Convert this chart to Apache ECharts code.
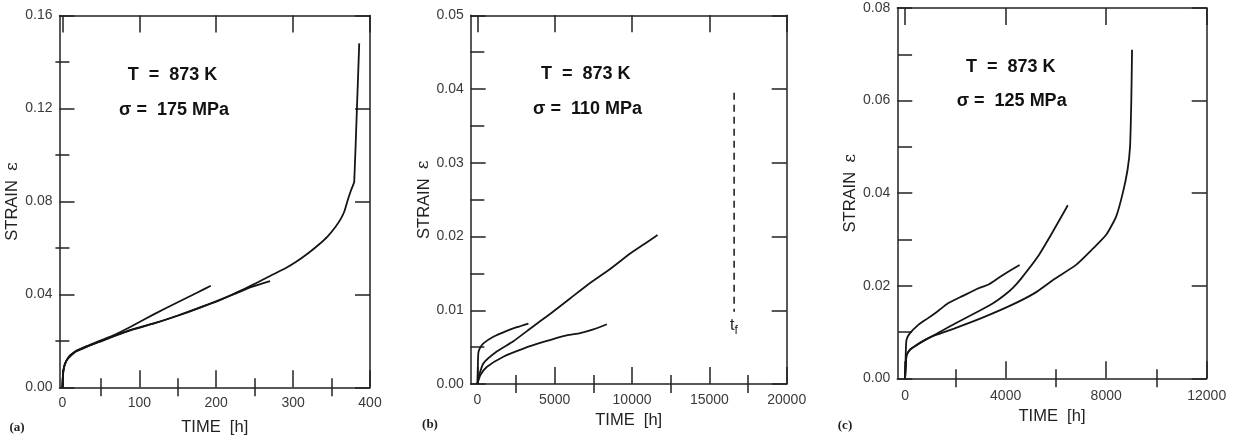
<!DOCTYPE html>
<html>
<head>
<meta charset="utf-8">
<script src="https://cdn.jsdelivr.net/npm/echarts@6/dist/echarts.min.js"></script>
<style>html,body{margin:0;padding:0;background:#fff;}#c{width:1234px;height:440px;}</style>
</head>
<body>
<div id="c"></div>
<script>
// ---------- DATA ----------
// Panel (a): T = 873 K, sigma = 175 MPa  [time h, strain]
const aLong = [[0,0],[0.5,0.004],[1.3,0.0074],[3,0.0098],[5.7,0.0118],[10,0.0138],[16.5,0.0153],[25,0.0166],[33.8,0.0178],[50,0.0199],[68,0.0222],[90,0.0248],[120,0.0276],[150,0.0309],[180,0.0345],[200,0.0368],[224,0.0404],[250,0.0445],[270,0.0479],[290,0.0512],[304,0.0540],[320,0.0578],[332,0.0610],[345,0.0650],[355,0.0690],[362,0.0725],[367,0.0760],[371,0.0805],[375,0.0845],[378,0.0870],[379.5,0.0885],[383,0.12],[386,0.148]];
const aShort1 = [[0,0],[1.3,0.0074],[5.7,0.0118],[16.5,0.0154],[33.8,0.018],[50,0.0202],[68,0.0226],[90,0.0263],[120,0.0316],[150,0.0366],[175,0.0407],[193,0.0437]];
const aShort2 = [[0,0],[1.3,0.0072],[5.7,0.0117],[16.5,0.0152],[33.8,0.0177],[50,0.0198],[68,0.0221],[90,0.0247],[120,0.0276],[150,0.0308],[180,0.0344],[224,0.0402],[246,0.0432],[270,0.0457]];
// Panel (b): T = 873 K, sigma = 110 MPa
const bUpper = [[0,0],[30,0.0022],[65,0.0042],[150,0.0048],[390,0.0055],[1035,0.0064],[1900,0.0072],[2550,0.0077],[3300,0.0082]];
const bMiddle = [[0,0],[120,0.0012],[390,0.0028],[1255,0.0044],[2330,0.0058],[3410,0.0075],[4700,0.0095],[5995,0.0116],[7290,0.0137],[8585,0.0156],[9880,0.0177],[10800,0.019],[11650,0.0202]];
const bLower = [[0,0],[200,0.0012],[605,0.0023],[1680,0.0037],[2975,0.0048],[4270,0.0057],[5780,0.0066],[6645,0.0069],[7500,0.0074],[8370,0.0081]];
const bRupture = [[16600,0.0395],[16600,0.0098]];
// Panel (c): T = 873 K, sigma = 125 MPa
const cA = [[0,0],[20,0.004],[55,0.0083],[187,0.0097],[516,0.0115],[914,0.013],[1300,0.0145],[1708,0.0162],[2300,0.0178],[2900,0.0194],[3300,0.0202],[3694,0.0216],[4100,0.023],[4556,0.0245]];
const cB = [[0,0],[30,0.003],[60,0.005],[200,0.0062],[400,0.007],[800,0.0083],[1180,0.0094],[1974,0.0118],[3035,0.0148],[3500,0.0162],[3960,0.018],[4300,0.0196],[4624,0.0216],[5284,0.0263],[5880,0.0317],[6475,0.0374]];
const cC = [[0,0],[30,0.003],[60,0.005],[200,0.0062],[400,0.007],[800,0.0083],[1200,0.0093],[1974,0.0108],[3035,0.013],[4226,0.0158],[5152,0.0184],[5900,0.0213],[6800,0.0245],[7470,0.028],[8000,0.031],[8400,0.035],[8660,0.040],[8850,0.045],[8950,0.050],[9000,0.060],[9030,0.071]];

// tick values
const aXMajor = [0,100,200,300,400], aXMinor = [50,150,250,350];
const aYMajor = [0,0.04,0.08,0.12,0.16], aYMinor = [0.02,0.06,0.10,0.14];
const bXMajor = [0,5000,10000,15000,20000], bXMinor = [2500,7500,12500,17500];
const bYMajor = [0,0.01,0.02,0.03,0.04,0.05], bYMinor = [0.005,0.015,0.025,0.035,0.045];
const cXMajor = [0,4000,8000,12000], cXMinor = [2000,6000,10000];
const cYMajor = [0,0.02,0.04,0.06,0.08], cYMinor = [0.01,0.03,0.05,0.07];

const annotations = [
  ['T  =  873 K', 'σ =  175 MPa', '(a)'],
  ['T  =  873 K', 'σ =  110 MPa', '(b)'],
  ['T  =  873 K', 'σ =  125 MPa', '(c)']
];

// ---------- LAYOUT ----------
const FRAME = '#222';
const LBL = '#3a3a3a';
const FONT = '"Liberation Sans", Arial, sans-serif';
const panels = [
  {grid:{left:59.5, top:15.5, width:310.5, height:371.8}, x:[-3.8,400], y:[0,0.16], xMaj:aXMajor, xMin:aXMinor, yMaj:aYMajor, yMin:aYMinor, xGap:32, yGap:37, xMargin:9},
  {grid:{left:470.7, top:15.3, width:316, height:368.7}, x:[-430,20000], y:[0,0.05], xMaj:bXMajor, xMin:bXMinor, yMaj:bYMajor, yMin:bYMinor, xGap:27, yGap:37, xMargin:9},
  {grid:{left:897.3, top:8, width:309.4, height:370.3}, x:[-310,12000], y:[0,0.08], xMaj:cXMajor, xMin:cXMinor, yMaj:cYMajor, yMin:cYMinor, xGap:28, yGap:37, xMargin:11}
];

const grids = [], xAxes = [], yAxes = [];
panels.forEach((p, i) => {
  grids.push(Object.assign({outerBoundsMode:'none', containLabel:false}, p.grid));
  const base = {gridIndex:i, type:'value', min:p.x[0], max:p.x[1], splitLine:{show:false}};
  xAxes.push(Object.assign({}, base, {position:'bottom',
    name:'TIME  [h]', nameLocation:'middle', nameGap:p.xGap,
    nameTextStyle:{fontFamily:FONT, fontSize:16.5, color:'#222'},
    axisLine:{show:true, onZero:false, lineStyle:{color:FRAME, width:1.5}},
    axisTick:{show:true, inside:true, length:17, customValues:p.xMaj, lineStyle:{color:FRAME, width:1.5}},
    axisLabel:{show:true, customValues:p.xMaj, margin:p.xMargin, fontFamily:FONT, fontSize:14, color:LBL, formatter:v=>String(v)}}));
  xAxes.push(Object.assign({}, base, {position:'bottom',
    axisLine:{show:false}, axisLabel:{show:false},
    axisTick:{show:true, inside:true, length:9, customValues:p.xMin, lineStyle:{color:FRAME, width:1.5}}}));
  xAxes.push(Object.assign({}, base, {position:'top',
    axisLine:{show:true, onZero:false, lineStyle:{color:FRAME, width:1.5}}, axisLabel:{show:false},
    axisTick:{show:true, inside:true, length:17, customValues:p.xMaj, lineStyle:{color:FRAME, width:1.5}}}));
  xAxes.push(Object.assign({}, base, {position:'top',
    axisLine:{show:false}, axisLabel:{show:false},
    axisTick:{show:true, inside:true, length:9, customValues:p.xMin, lineStyle:{color:FRAME, width:1.5}}}));
  const ybase = {gridIndex:i, type:'value', min:p.y[0], max:p.y[1], splitLine:{show:false}};
  yAxes.push(Object.assign({}, ybase, {position:'left',
    name:'{s|STRAIN}  {e|ε}', nameLocation:'middle', nameGap:p.yGap, nameRotate:90,
    nameTextStyle:{fontFamily:FONT, fontSize:16.5, color:'#222',
      rich:{s:{fontFamily:FONT, fontSize:16.5, color:'#222'}, e:{fontFamily:'"DejaVu Serif", serif', fontSize:17, color:'#222'}}},
    axisLine:{show:true, onZero:false, lineStyle:{color:FRAME, width:1.5}},
    axisTick:{show:true, inside:true, length:15, customValues:p.yMaj, lineStyle:{color:FRAME, width:1.5}},
    axisLabel:{show:true, customValues:p.yMaj, margin:7, fontFamily:FONT, fontSize:14, color:LBL, formatter:v=>v.toFixed(2)}}));
  yAxes.push(Object.assign({}, ybase, {position:'left',
    axisLine:{show:false}, axisLabel:{show:false},
    axisTick:{show:true, inside:true, length:7, customValues:p.yMin, lineStyle:{color:FRAME, width:1.5}}}));
  yAxes.push(Object.assign({}, ybase, {position:'right',
    axisLine:{show:true, onZero:false, lineStyle:{color:FRAME, width:1.5}}, axisLabel:{show:false},
    axisTick:{show:true, inside:true, length:15, customValues:p.yMaj, lineStyle:{color:FRAME, width:1.5}}}));
  yAxes.push(Object.assign({}, ybase, {position:'right',
    axisLine:{show:false}, axisLabel:{show:false},
    axisTick:{show:true, inside:true, length:7, customValues:p.yMin, lineStyle:{color:FRAME, width:1.5}}}));
});

function curve(data, panel, extra) {
  return Object.assign({type:'line', data:data, xAxisIndex:panel*4, yAxisIndex:panel*4,
    showSymbol:false, symbol:'none', smooth:0.2, silent:true, animation:false,
    lineStyle:{color:'#151515', width:1.8}}, extra || {});
}

const series = [
  curve(aLong,0), curve(aShort1,0), curve(aShort2,0),
  curve(bUpper,1), curve(bMiddle,1), curve(bLower,1),
  curve(bRupture,1,{smooth:false, lineStyle:{color:'#222', width:1.6, type:[7,5]}}),
  curve(cA,2), curve(cB,2), curve(cC,2)
];

const annoPos = [
  {t:[172.5,75], s:[174,110.3], p:[17,428]},
  {t:[585.8,74.2], s:[587.5,109.2], p:[430,425]},
  {t:[1010.8,66.7], s:[1011.7,101.3], p:[845,426]}
];
const graphic = [];
annotations.forEach((a, i) => {
  const pos = annoPos[i];
  graphic.push({type:'text', x:pos.t[0], y:pos.t[1], silent:true,
    style:{text:a[0], font:'bold 18px ' + FONT, fill:'#111', textAlign:'center', textVerticalAlign:'middle'}});
  graphic.push({type:'text', x:pos.s[0], y:pos.s[1], silent:true,
    style:{text:a[1], font:'bold 18px ' + FONT, fill:'#111', textAlign:'center', textVerticalAlign:'middle'}});
  graphic.push({type:'text', x:pos.p[0], y:pos.p[1], silent:true,
    style:{text:a[2], font:'bold 13px "Liberation Serif", serif', fill:'#222', textAlign:'center', textVerticalAlign:'middle'}});
});
graphic.push({type:'text', x:730, y:315, silent:true,
  style:{text:'{t|t}{f|f}', rich:{t:{font:'16px ' + FONT, fill:'#222'}, f:{font:'12px ' + FONT, fill:'#222', padding:[10,0,0,0]}}}});

const chart = echarts.init(document.getElementById('c'), null, {renderer:'canvas'});
chart.setOption({
  animation:false,
  backgroundColor:'#fff',
  grid:grids, xAxis:xAxes, yAxis:yAxes, series:series, graphic:graphic
});
</script>
</body>
</html>
